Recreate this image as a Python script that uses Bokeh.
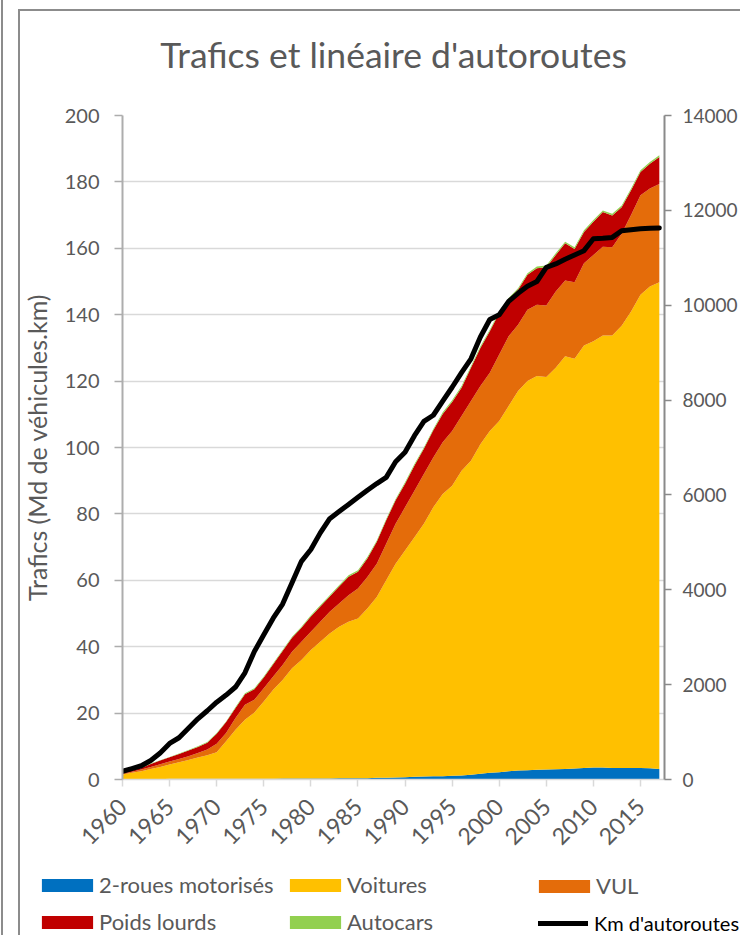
import math
from bokeh.plotting import figure
from bokeh.layouts import column
from bokeh.models import (ColumnDataSource, Range1d, LinearAxis, FixedTicker,
                          Legend, LegendItem, Label, Title)
from bokeh.embed import file_html
from bokeh.resources import INLINE

years = list(range(1960, 2018))

deux_roues = [0.1, 0.1, 0.1, 0.1, 0.1, 0.2, 0.2, 0.2, 0.2, 0.2,
              0.2, 0.2, 0.2, 0.2, 0.2, 0.2, 0.2, 0.3, 0.3, 0.3,
              0.3, 0.3, 0.3, 0.4, 0.4, 0.4, 0.4, 0.5, 0.5, 0.6,
              0.7, 0.8, 0.9, 1.0, 1.0, 1.1, 1.2, 1.4, 1.7, 2.0,
              2.2, 2.5, 2.7, 2.8, 2.9, 3.0, 3.1, 3.2, 3.3, 3.5,
              3.6, 3.6, 3.5, 3.5, 3.5, 3.5, 3.4, 3.2]

voitures = [1.4, 1.9, 2.4, 3.1, 3.7, 4.3, 5.0, 5.7, 6.4, 7.1,
            8.0, 11.3, 14.8, 17.8, 20.0, 23.3, 26.8, 29.7, 33.2, 35.7,
            38.7, 41.2, 43.7, 45.6, 47.1, 48.1, 51.1, 54.5, 59.5, 64.4,
            68.3, 72.2, 76.1, 81.0, 85.0, 87.4, 91.8, 94.6, 99.3, 103.0,
            105.8, 110.0, 114.3, 117.2, 118.6, 118.2, 120.9, 124.3, 123.4, 127.2,
            128.4, 130.1, 130.2, 133.2, 137.5, 142.5, 145.1, 146.6]

vul = [0.3, 0.3, 0.5, 0.6, 0.8, 0.9, 1.0, 1.1, 1.4, 1.7,
       2.6, 2.5, 3.5, 4.5, 3.8, 4.0, 4.0, 4.5, 5.0, 5.5,
       5.5, 6.0, 6.5, 7.0, 8.0, 9.0, 9.5, 10.0, 11.0, 12.0,
       13.0, 14.0, 15.0, 15.0, 15.6, 16.5, 16.5, 18.0, 17.5, 17.5,
       20.0, 21.0, 20.0, 21.5, 21.5, 21.6, 23.0, 22.8, 23.1, 24.8,
       26.0, 26.8, 26.6, 27.7, 29.0, 30.0, 29.5, 29.6]

poids_lourds = [0.3, 0.4, 0.5, 0.9, 1.1, 1.3, 1.5, 1.7, 1.8, 2.1,
                3.0, 3.3, 3.0, 3.2, 3.2, 3.2, 3.7, 4.2, 4.2, 4.2,
                4.6, 4.6, 4.6, 5.1, 5.6, 5.1, 5.6, 6.6, 7.1, 7.1,
                7.1, 7.6, 7.6, 8.2, 8.5, 8.7, 8.5, 10.0, 11.5, 12.5,
                12.5, 11.0, 10.5, 10.5, 11.0, 11.5, 11.0, 11.2, 10.0, 9.4,
                10.0, 10.4, 9.6, 8.0, 7.5, 7.0, 7.5, 8.1]

autocars = [0.1, 0.1, 0.1, 0.1, 0.1, 0.1, 0.1, 0.2, 0.2, 0.2,
            0.2, 0.2, 0.3, 0.3, 0.3, 0.3, 0.3, 0.3, 0.3, 0.3,
            0.4, 0.4, 0.4, 0.4, 0.4, 0.4, 0.4, 0.4, 0.4, 0.4,
            0.4, 0.4, 0.4, 0.4, 0.5, 0.5, 0.5, 0.5, 0.5, 0.5,
            0.5, 0.5, 0.5, 0.5, 0.5, 0.5, 0.5, 0.5, 0.5, 0.5,
            0.5, 0.5, 0.5, 0.5, 0.5, 0.5, 0.5, 0.5]

km_autoroutes = [174, 230, 290, 400, 560, 760, 880, 1080, 1280, 1450,
                 1630, 1780, 1950, 2250, 2700, 3050, 3400, 3700, 4150, 4600,
                 4850, 5200, 5500, 5650, 5800, 5950, 6100, 6240, 6370, 6700,
                 6900, 7250, 7550, 7680, 7980, 8270, 8580, 8870, 9330, 9700,
                 9800, 10080, 10250, 10400, 10500, 10800, 10870, 10970, 11060, 11150,
                 11400, 11410, 11430, 11570, 11590, 11610, 11625, 11630]

series_names = ["2-roues motorisés", "Voitures", "VUL", "Poids lourds", "Autocars"]
series_colors = ["#0070C0", "#FFC000", "#E46C0A", "#C00000", "#92D050"]
line_name = "Km d'autoroutes"
chart_title = "Trafics et linéaire d'autoroutes"
x_ticks = list(range(1960, 2016, 5))
left_ticks = list(range(0, 201, 20))
right_ticks = list(range(0, 14001, 2000))

FONT = "Lato"
GREY = "#595959"

src = ColumnDataSource(dict(year=years, deux_roues=deux_roues, voitures=voitures,
                            vul=vul, poids_lourds=poids_lourds, autocars=autocars,
                            km=km_autoroutes))

p = figure(width=740, height=860, x_range=Range1d(1960, 2017.55), y_range=Range1d(0, 200),
           output_backend="svg", toolbar_location=None,
           min_border_left=122, min_border_right=75, min_border_top=115, min_border_bottom=81)
p.extra_y_ranges = {"km": Range1d(0, 14000)}
p.border_fill_alpha = 0
p.background_fill_color = "white"
p.outline_line_color = None
p.title_location = None

# spacer (closest to the frame) then the real title above it
p.add_layout(Title(text=" ", text_font_size="1px", standoff=37), "above")
p.add_layout(Title(text=chart_title, align="center", text_font=FONT, text_font_style="normal",
                   text_font_size="35.5px", text_color=GREY, standoff=0), "above")

areas = p.varea_stack(stackers=["deux_roues", "voitures", "vul", "poids_lourds", "autocars"],
                      x="year", color=series_colors, source=src)
km_line = p.line("year", "km", source=src, y_range_name="km", line_width=5,
                 line_color="black", line_cap="round", line_join="round")

p.xgrid.grid_line_color = None
p.ygrid.grid_line_color = "#d9d9d9"
p.ygrid.grid_line_width = 1.5
p.ygrid.ticker = FixedTicker(ticks=left_ticks)

xa = p.xaxis[0]
xa.ticker = FixedTicker(ticks=x_ticks)
xa.axis_line_color = "#d9d9d9"
xa.axis_line_width = 1.5
xa.major_tick_line_color = "#d9d9d9"
xa.major_tick_line_width = 1.5
xa.major_tick_out = 7
xa.major_tick_in = 0
xa.minor_tick_line_color = None
xa.major_label_orientation = math.pi / 4
xa.major_label_text_font = FONT
xa.major_label_text_font_size = "23px"
xa.major_label_text_color = GREY
xa.major_label_standoff = 16

ya = p.yaxis[0]
ya.ticker = FixedTicker(ticks=left_ticks)
ya.axis_line_color = "#adadad"
ya.axis_line_width = 2
ya.major_tick_line_color = "#adadad"
ya.major_tick_line_width = 1.5
ya.major_tick_out = 8
ya.major_tick_in = 0
ya.minor_tick_line_color = None
ya.major_label_text_font = FONT
ya.major_label_text_font_size = "20px"
ya.major_label_text_color = GREY
ya.major_label_standoff = 15
ya.axis_label = "Trafics (Md de véhicules.km)"
ya.axis_label_text_font = FONT
ya.axis_label_text_font_style = "normal"
ya.axis_label_text_font_size = "25px"
ya.axis_label_text_color = GREY
ya.axis_label_standoff = 10

ra = LinearAxis(y_range_name="km", ticker=FixedTicker(ticks=right_ticks))
ra.axis_line_color = "#8a8a8a"
ra.axis_line_width = 2
ra.major_tick_line_color = "#8a8a8a"
ra.major_tick_line_width = 1.5
ra.major_tick_out = 7
ra.major_tick_in = 0
ra.minor_tick_line_color = None
ra.major_label_text_font = FONT
ra.major_label_text_font_size = "19px"
ra.major_label_text_color = GREY
ra.major_label_standoff = 11
p.add_layout(ra, "right")

p.add_layout(Label(x=2025.4, y=100, text=line_name, angle=math.pi / 2,
                   text_align="center", text_baseline="top", text_font=FONT,
                   text_font_size="24px", text_color=GREY))

# legend strip (own figure, frame spanning the full width)
lg_fig = figure(width=740, height=75, x_range=Range1d(0, 1), y_range=Range1d(0, 1),
                output_backend="svg", toolbar_location=None,
                min_border=0, x_axis_location=None, y_axis_location=None)
lg_fig.grid.visible = False
lg_fig.outline_line_color = None
lg_fig.border_fill_alpha = 0
lg_fig.background_fill_alpha = 0

for fig in (p, lg_fig):
    if "frame_align" in fig.properties():
        fig.frame_align = False

dummy = [lg_fig.varea(x=[5, 6], y1=[5, 5], y2=[6, 6], fill_color=c) for c in series_colors]
dummy_line = lg_fig.line(x=[5, 6], y=[5, 5], line_width=5, line_color="black", line_cap="round")


def make_legend(items, loc, color, gw, standoff, size="22px"):
    lg = Legend(items=items, location=loc, orientation="vertical")
    lg.glyph_width = gw
    lg.glyph_height = 16
    lg.label_standoff = standoff
    lg.label_height = 16
    lg.spacing = 10
    lg.padding = 0
    lg.margin = 0
    lg.border_line_color = None
    lg.background_fill_alpha = 0
    lg.label_text_font = FONT
    lg.label_text_font_size = size
    lg.label_text_color = color
    return lg


lg_fig.add_layout(make_legend([LegendItem(label=series_names[0], renderers=[dummy[0]]),
                               LegendItem(label=series_names[3], renderers=[dummy[3]])],
                              (35, 0), GREY, 64, 0))
lg_fig.add_layout(make_legend([LegendItem(label=series_names[1], renderers=[dummy[1]]),
                               LegendItem(label=series_names[4], renderers=[dummy[4]])],
                              (283, 0), GREY, 64, 0))
lg_fig.add_layout(make_legend([LegendItem(label=series_names[2], renderers=[dummy[2]])],
                              (532, 36), GREY, 64, 0))
lg_fig.add_layout(make_legend([LegendItem(label=line_name, renderers=[dummy_line])],
                              (538, 0), "black", 50, 6, "20px"))

layout = column(p, lg_fig)
layout.styles = {"box-shadow": "inset 1px 0 0 0 #ffffff, inset 3px 0 0 0 #8c8c8c, "
                               "inset 18px 9px 0 0 #ffffff, inset 20px 11px 0 0 #8c8c8c"}

open("out.html", "w").write(file_html(layout, INLINE))
